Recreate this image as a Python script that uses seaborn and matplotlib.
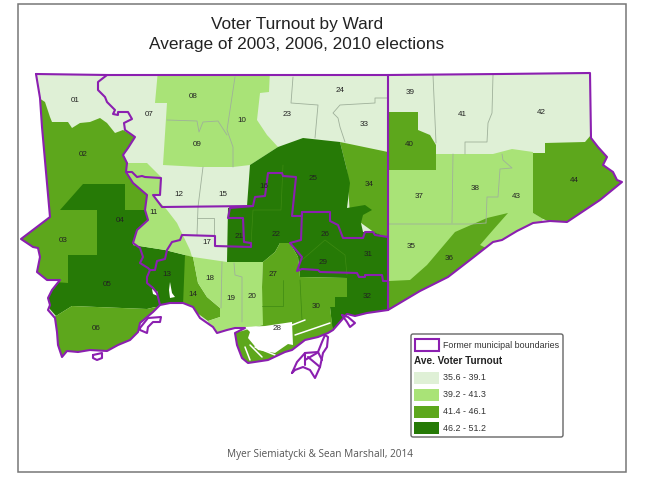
import matplotlib
matplotlib.use("Agg")
import matplotlib.pyplot as plt
import pandas as pd
import seaborn as sns
from matplotlib.patches import FancyBboxPatch, Polygon, Rectangle

# everything in pixel units (x right, y down)
class_colors = ["#DFF0D6", "#A9E377", "#5DA71C", "#267A06"]
class_labels = ["35.6 - 39.1", "39.2 - 41.3", "41.4 - 46.1", "46.2 - 51.2"]
purple = "#8B1FB0"

city_outline = [(36, 74), (108, 75), (250, 75), (388, 75), (500, 74), (590, 73), (591, 138), (598, 147),
                (607, 157), (603, 165), (613, 172), (617, 180), (622, 182), (600, 200), (567, 222), (550, 221),
                (533, 223), (517, 231), (502, 240), (493, 242), (470, 260), (448, 277), (420, 291), (388, 310),
                (367, 313), (355, 316), (347, 314), (333, 330), (328, 333), (318, 337), (305, 340), (292, 350),
                (285, 352), (268, 360), (248, 363), (242, 358), (237, 345), (235, 333), (245, 328), (235, 328),
                (227, 330), (217, 333), (213, 327), (200, 318), (193, 307), (183, 303), (170, 303), (160, 305),
                (153, 312), (140, 323), (138, 332), (130, 340), (118, 345), (107, 351), (90, 350), (78, 352),
                (67, 351), (62, 357), (58, 345), (57, 332), (55, 318), (48, 310), (50, 305), (48, 298),
                (52, 290), (60, 280), (47, 280), (37, 272), (40, 257), (38, 248), (33, 247), (21, 239),
                (50, 217), (42, 127), (40, 98)]

# wards with the same class are merged where no visible edge splits them
ward_02 = [(30, 90), (39, 98), (45, 102), (50, 117), (52, 122), (60, 122), (68, 122), (72, 128), (80, 123),
           (90, 122), (100, 118), (107, 123), (115, 133), (123, 130), (135, 137), (128, 148), (123, 155),
           (127, 163), (126, 172), (133, 183), (147, 195), (145, 215), (60, 215), (30, 220)]
ward_03 = [(15, 240), (50, 210), (63, 210), (97, 213), (97, 255), (68, 255), (68, 283), (58, 285), (40, 285)]
wards_04_05_13 = [(60, 210), (83, 184), (125, 184), (125, 210), (145, 210), (148, 220), (137, 230), (133, 245),
                  (165, 250), (185, 255), (185, 310), (155, 307), (147, 309), (72, 306), (56, 316), (42, 300),
                  (55, 282), (68, 283), (68, 255), (97, 255), (97, 210)]
ward_06 = [(56, 316), (72, 306), (147, 309), (165, 305), (165, 345), (100, 365), (50, 365), (45, 320)]
wards_08_09_10 = [(158, 70), (270, 70), (269, 92), (260, 93), (257, 120), (267, 135), (278, 147), (250, 165),
                  (233, 167), (200, 167), (163, 165), (167, 103), (155, 103)]
ward_11 = [(127, 163), (147, 163), (161, 177), (161, 195), (153, 195), (167, 210), (177, 223), (190, 250),
           (192, 257), (185, 255), (165, 250), (133, 245), (137, 230), (148, 220), (145, 210), (147, 195),
           (133, 183), (126, 172)]
ward_14 = [(185, 255), (193, 257), (198, 283), (207, 297), (220, 308), (220, 317), (208, 321), (193, 310),
           (183, 306)]
wards_18_19_20 = [(193, 257), (227, 262), (263, 262), (262, 287), (265, 325), (245, 328), (233, 338), (227, 335),
                  (210, 335), (208, 321), (220, 317), (220, 308), (207, 297), (198, 283)]
wards_27_30 = [(280, 243), (290, 243), (298, 257), (300, 277), (347, 278), (347, 297), (335, 297), (335, 307),
               (330, 307), (333, 332), (320, 345), (297, 355), (267, 370), (230, 370), (228, 335), (263, 325),
               (262, 287), (263, 262), (275, 252)]
wards_central = [(250, 165), (278, 147), (303, 138), (340, 142), (347, 170), (350, 183), (347, 208), (365, 205),
                 (372, 210), (363, 215), (361, 223), (363, 232), (373, 232), (388, 237), (392, 315), (333, 335),
                 (330, 307), (335, 307), (335, 297), (347, 297), (347, 278), (300, 277), (298, 257), (290, 243),
                 (280, 243), (275, 252), (263, 262), (227, 262), (228, 208), (247, 206)]
ward_34 = [(340, 142), (388, 152), (388, 237), (375, 233), (350, 215), (347, 170)]
ward_40 = [(388, 112), (418, 112), (418, 130), (430, 135), (436, 145), (436, 170), (388, 170)]
wards_35_37_38_43 = [(388, 170), (436, 170), (436, 154), (465, 154), (493, 154), (512, 149), (533, 152),
                     (533, 213), (543, 219), (535, 235), (470, 285), (388, 300)]
ward_36 = [(389, 281), (410, 280), (427, 265), (455, 232), (487, 218), (508, 213), (493, 230), (480, 245),
           (490, 250), (470, 285), (388, 325)]
ward_44 = [(533, 153), (545, 153), (545, 143), (585, 142), (591, 135), (630, 182), (570, 230), (543, 219),
           (533, 213)]
harbour = [(245, 327), (265, 326), (292, 322), (293, 345), (288, 344), (275, 353), (258, 350), (248, 338),
           (250, 332)]
inlet_a = [(170, 282), (172, 293), (175, 297), (170, 298), (169, 290)]
inlet_b = [(152, 289), (158, 292), (158, 296), (153, 294)]

# (class index, outline), painted in this order over the lightest class
ward_fills = [(2, ward_02), (2, ward_03), (3, wards_04_05_13), (2, ward_06), (1, wards_08_09_10), (1, ward_11),
              (2, ward_14), (1, wards_18_19_20), (2, ward_34), (3, wards_central), (2, wards_27_30), (2, ward_40),
              (1, wards_35_37_38_43), (2, ward_36), (2, ward_44)]

ward_ids = ["01", "02", "03", "04", "05", "06", "07", "08", "09", "10", "11", "12", "13", "14", "15", "16", "17",
            "18", "19", "20", "21", "22", "23", "24", "25", "26", "27", "28", "29", "30", "31", "32", "33", "34",
            "35", "36", "37", "38", "39", "40", "41", "42", "43", "44"]
ward_x = [75, 83, 63, 120, 107, 96, 149, 193, 197, 242, 154, 179, 167, 193, 223, 264, 207, 210, 231, 252, 239, 276,
          287, 340, 313, 325, 273, 277, 323, 316, 368, 367, 364, 369, 411, 449, 419, 475, 410, 409, 462, 541, 516,
          574]
ward_y = [100, 154, 241, 221, 284, 328, 114, 97, 145, 120, 213, 195, 274, 295, 194, 186, 242, 279, 299, 296, 236,
          235, 114, 91, 178, 235, 274, 329, 262, 306, 255, 296, 124, 184, 247, 258, 197, 189, 93, 144, 114, 112,
          196, 180]

# thin grey ward edges
ward_edges = [
    [(235, 77), (227, 130), (233, 147), (233, 167)],
    [(167, 120), (197, 121), (199, 132), (203, 122), (218, 121), (227, 135)],
    [(203, 167), (198, 207)],
    [(198, 207), (197, 235)],
    [(197, 218), (214, 218), (214, 236)],
    [(293, 77), (291, 103), (318, 105), (315, 138)],
    [(387, 98), (375, 98), (375, 103), (340, 105), (333, 113), (338, 118), (340, 127), (345, 142)],
    [(433, 75), (436, 143)],
    [(493, 75), (492, 113), (488, 123), (487, 142), (465, 142), (465, 154)],
    [(453, 154), (452, 223)],
    [(502, 154), (503, 160), (512, 168), (500, 169), (498, 197), (487, 197), (486, 223)],
    [(388, 224), (472, 224), (486, 223)],
    [(222, 262), (221, 308)],
    [(234, 263), (235, 275), (242, 277), (242, 322)],
]
dark_edges = [
    [(262, 306), (283, 306), (283, 280)],
    [(300, 280), (302, 320)],
    [(283, 165), (281, 210), (253, 210), (251, 245)],
    [(302, 260), (325, 240), (345, 255), (347, 275)],
]

# purple former municipal boundaries, besides the city outline
boundary_lines = {
    "north_york_west": [(107, 75), (98, 82), (98, 90), (105, 97), (107, 102), (115, 110), (113, 114), (118, 115),
                        (118, 112), (128, 112), (132, 119), (124, 123), (125, 130), (135, 137), (128, 148),
                        (123, 155), (127, 163), (126, 172), (133, 183), (147, 195), (145, 210), (148, 220),
                        (137, 230), (133, 243), (140, 248), (143, 257), (140, 263), (148, 268), (150, 270)],
    "york_north": [(126, 172), (132, 172), (137, 177), (142, 176), (145, 177), (161, 178), (160, 195), (153, 195),
                   (162, 207), (253, 206), (255, 197), (265, 196), (268, 173), (282, 173), (283, 176), (296, 177),
                   (292, 216), (302, 216), (302, 212), (330, 212), (330, 221), (338, 225), (343, 238), (363, 238),
                   (365, 232), (373, 232), (375, 235), (388, 237)],
    "east_york_south": [(302, 212), (301, 240), (290, 243), (302, 257), (297, 271), (302, 269), (318, 270),
                        (320, 272), (357, 273), (359, 277), (365, 277), (365, 275), (382, 275), (383, 281),
                        (388, 281)],
    "toronto_west": [(253, 206), (230, 208), (228, 218), (243, 218), (244, 242), (251, 243), (251, 247), (215, 246),
                     (215, 236), (182, 235), (180, 240), (172, 242), (167, 250), (165, 259), (157, 261), (155, 270),
                     (150, 270), (147, 277), (147, 283), (153, 288), (157, 293), (160, 305)],
    "scarborough": [(388, 75), (388, 310)],
    "islands": [(292, 373), (297, 362), (305, 353), (318, 352), (322, 342), (325, 335), (328, 337), (327, 347),
                (323, 353), (320, 367), (315, 378), (310, 370), (303, 367), (295, 370), (292, 373)],
    "islands_a": [(305, 353), (305, 365)],
    "islands_b": [(305, 360), (317, 353)],
    "islands_c": [(308, 357), (320, 367)],
    "islands_d": [(318, 352), (322, 360)],
    "west_islet": [(93, 355), (102, 353), (102, 358), (97, 360), (93, 358), (93, 355)],
    "west_shoals": [(140, 328), (148, 318), (161, 317), (160, 322), (153, 322), (148, 327), (147, 333), (140, 330),
                    (140, 328)],
    "east_shoals": [(342, 315), (348, 317), (355, 323), (350, 327), (347, 322), (342, 315)],
}

title_lines = ["Voter Turnout by Ward", "Average of 2003, 2006, 2010 elections"]
credit = "Myer Siemiatycki & Sean Marshall, 2014"

sns.set_theme(style="white")
plt.rcParams["font.family"] = ["Liberation Sans", "DejaVu Sans"]
palette = sns.color_palette(class_colors)

fig = plt.figure(figsize=(6.49, 4.8), dpi=100)
ax = fig.add_axes([0, 0, 1, 1])

clip = Polygon(city_outline, closed=True, transform=ax.transData, facecolor="none", edgecolor="none")
ax.add_patch(clip)
base = ax.fill(*zip(*city_outline), color=palette[0], lw=0, zorder=1)[0]
base.set_clip_path(clip)
for level, outline in ward_fills:
    poly = ax.fill(*zip(*outline), color=palette[level], lw=0, zorder=2)[0]
    poly.set_clip_path(clip)

for edge in ward_edges:
    ax.plot(*zip(*edge), color="#9FB09A", lw=0.6, zorder=3)
for edge in dark_edges:
    ax.plot(*zip(*edge), color="#3E8A12", lw=0.5, zorder=3)

for shape in [harbour, inlet_a, inlet_b]:
    ax.fill(*zip(*shape), color="white", lw=0, zorder=4)
for a, b in [((292, 325), (305, 320)), ((295, 335), (330, 323)), ((245, 347), (250, 360)),
             ((250, 345), (262, 357)), ((255, 347), (275, 355))]:
    ax.plot([a[0], b[0]], [a[1], b[1]], color="white", lw=1.1, zorder=4)

rows = [{"line": "outline", "order": i, "x": x, "y": y} for i, (x, y) in enumerate(city_outline + city_outline[:1])]
for name, pts in boundary_lines.items():
    rows += [{"line": name, "order": i, "x": x, "y": y} for i, (x, y) in enumerate(pts)]
sns.lineplot(data=pd.DataFrame(rows), x="x", y="y", units="line", estimator=None, sort=False,
             color=purple, lw=1.5, ax=ax, zorder=5, legend=False)

for ward, x, y in zip(ward_ids, ward_x, ward_y):
    ax.text(x, y, ward, fontsize=5.8, color="#222222", ha="center", va="center", zorder=6)

ax.text(297, 24, title_lines[0], fontsize=12.4, color="#222222", ha="center", va="center")
ax.text(297, 44.5, title_lines[1], fontsize=12.4, color="#222222", ha="center", va="center")
ax.text(320, 454, credit, fontsize=7.2, color="#555555", ha="center", va="center", family="Open Sans")

# legend box
ax.add_patch(FancyBboxPatch((413, 336), 148, 99, boxstyle="round,pad=2,rounding_size=2", fc="white",
                            ec="#666666", lw=1.0, zorder=6))
ax.add_patch(Rectangle((414.5, 338.5), 24, 12.5, fc="white", ec=purple, lw=1.5, zorder=7))
ax.text(443, 345, "Former municipal boundaries", fontsize=6.4, color="#333333", va="center", zorder=7)
ax.text(414, 361, "Ave. Voter Turnout", fontsize=7.2, fontweight="bold", color="#222222", va="center", zorder=7)
for i, (level_color, label) in enumerate(zip(palette, class_labels)):
    top = 372 + i * 16.8
    ax.add_patch(Rectangle((414, top), 25, 12, fc=level_color, ec="none", zorder=7))
    ax.text(443, top + 6, label, fontsize=6.4, color="#333333", va="center", zorder=7)

# picture frame
ax.add_patch(Rectangle((18, 4), 608, 468, fc="none", ec="#777777", lw=1.1, zorder=0))

ax.set_xlim(0, 649)
ax.set_ylim(480, 0)
ax.axis("off")

plt.savefig("out.png", dpi=100)
plt.close()
